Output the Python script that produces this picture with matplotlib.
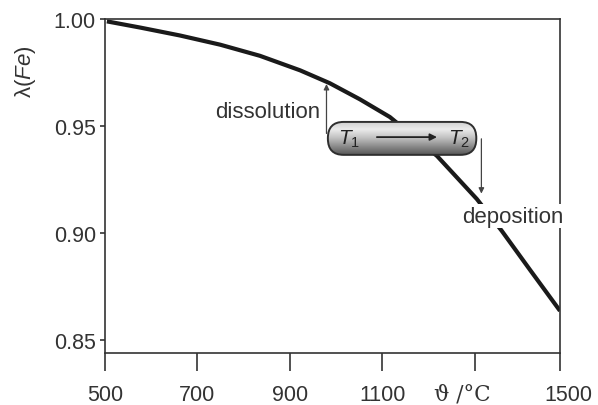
import numpy as np
import matplotlib
matplotlib.use("Agg")
import matplotlib.pyplot as plt
from matplotlib.patches import FancyBboxPatch
from matplotlib.colors import LinearSegmentedColormap
from matplotlib.transforms import ScaledTranslation

plt.rcParams['font.family'] = ['Liberation Sans', 'DejaVu Sans']
plt.rcParams['mathtext.fontset'] = 'custom'
plt.rcParams['mathtext.rm'] = 'Liberation Sans'
plt.rcParams['mathtext.it'] = 'Liberation Sans:italic'

# data
temperature = [504, 576, 662, 749, 835, 922, 986, 1051, 1116, 1218, 1304, 1358, 1419, 1484]
lam_fe = [0.9989, 0.9960, 0.9923, 0.9880, 0.9828, 0.9760, 0.9700, 0.9625, 0.9542,
          0.9360, 0.9159, 0.9010, 0.8828, 0.8636]
xticks = [500, 700, 900, 1100, 1300, 1484]
xticklabels = ['500', '700', '900', '1100', '', '1500']
yticks = [0.85, 0.90, 0.95, 1.00]

# transport tube, T1 -> T2
tube_x = (982, 1303)
tube_y = (0.9365, 0.9519)
t1_x, t2_x = 1027, 1265
diss_x, diss_from, diss_to = 979, 0.9465, 0.9696
depo_x, depo_from, depo_to = 1314, 0.9440, 0.9184

ink = '#333333'

fig = plt.figure(figsize=(5.98, 4.06), dpi=100)
ax = fig.add_axes([105/598, 1-354/406, 455/598, 334/406])

ax.plot(temperature, lam_fe, color='#1a1a1a', lw=3, solid_capstyle='butt',
        solid_joinstyle='round', zorder=2)

ax.set_xlim(500, 1484)
ax.set_ylim(0.8439, 1.0)
ax.set_xticks(xticks)
ax.set_xticklabels(xticklabels)
ax.set_yticks(yticks)
ax.set_yticklabels(['%.2f' % v for v in yticks])
for s in ax.spines.values():
    s.set_color(ink)
    s.set_linewidth(1.2)
ax.tick_params(axis='x', direction='out', length=13, width=1.2, color=ink,
               labelsize=15.5, labelcolor=ink, pad=9)
ax.tick_params(axis='y', direction='out', length=3.5, width=1.2, color=ink,
               labelsize=15.5, labelcolor=ink, pad=3)
# the last label sits a bit right of its tick in the original
last = ax.xaxis.get_major_ticks()[-1].label1
last.set_transform(last.get_transform() + ScaledTranslation(0.08, 0, fig.dpi_scale_trans))

# axis labels
fig.text(25/598, 1-72/406, 'λ($\\mathit{Fe}$)', rotation=90, ha='center', va='center',
         fontsize=16, color=ink)
ax.text(1272, -0.12, 'ϑ /°C', ha='center', va='center', fontsize=15.5, color=ink,
        transform=ax.get_xaxis_transform(), family=['DejaVu Serif', 'Liberation Sans'])

# tube with gradient
w = tube_x[1] - tube_x[0]
h = tube_y[1] - tube_y[0]
aspect = h / (32 * 2.162)
pill = FancyBboxPatch((tube_x[0], tube_y[0]), w, h,
                      boxstyle='round,pad=0,rounding_size=34',
                      mutation_aspect=aspect, facecolor='none',
                      edgecolor='#2e2e2e', lw=1.4, zorder=5)
ax.add_patch(pill)
cmap = LinearSegmentedColormap.from_list('tube', [(0, '#555555'), (0.5, '#bdbdbd'),
                                                  (0.78, '#ebebeb'), (1, '#cfcfcf')])
grad = np.linspace(0, 1, 128).reshape(-1, 1)
im = ax.imshow(grad, extent=[tube_x[0], tube_x[1], tube_y[0], tube_y[1]], origin='lower',
               cmap=cmap, aspect='auto', zorder=4, interpolation='bicubic')
im.set_clip_path(pill)
ax.set_xlim(500, 1484)
ax.set_ylim(0.8439, 1.0)

ymid = (tube_y[0] + tube_y[1]) / 2
ax.text(t1_x, ymid, '$T_1$', ha='center', va='center', fontsize=15, color='#222222', zorder=6)
ax.text(t2_x, ymid, '$T_2$', ha='center', va='center', fontsize=15, color='#222222', zorder=6)
ax.annotate('', xy=(1218, ymid + 0.0006), xytext=(1088, ymid + 0.0006),
            arrowprops=dict(arrowstyle='-|>', color='#222222', lw=1.3,
                            mutation_scale=10, shrinkA=0, shrinkB=0), zorder=6)

# dissolution / deposition arrows
ax.annotate('', xy=(diss_x, diss_to), xytext=(diss_x, diss_from),
            arrowprops=dict(arrowstyle='-|>', color='#444444', lw=0.9,
                            mutation_scale=8, shrinkA=0, shrinkB=0), zorder=3)
ax.annotate('', xy=(depo_x, depo_to), xytext=(depo_x, depo_from),
            arrowprops=dict(arrowstyle='-|>', color='#444444', lw=0.9,
                            mutation_scale=8, shrinkA=0, shrinkB=0), zorder=3)
ax.text(diss_x - 13, 0.9570, 'dissolution', ha='right', va='center', fontsize=16, color=ink)
ax.text(1382, 0.9079, 'deposition', ha='center', va='center', fontsize=16, color=ink,
        bbox=dict(facecolor='white', edgecolor='none', pad=1), zorder=7)

fig.savefig('out.png', dpi=100, facecolor='white')
